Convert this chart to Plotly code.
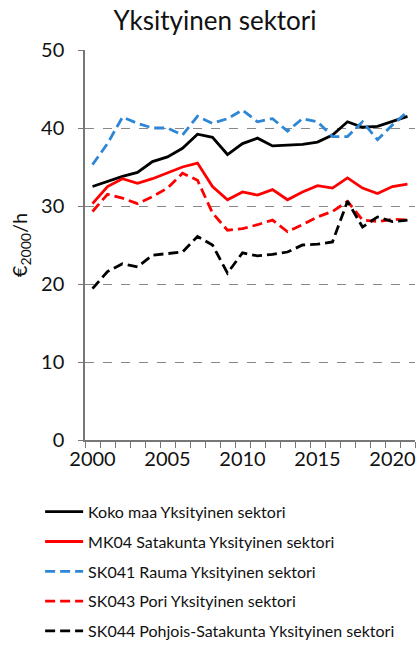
import plotly.graph_objects as go

# Data
years = list(range(2000, 2022))
koko_maa = [32.5, 33.2, 33.8, 34.3, 35.7, 36.3, 37.4, 39.2, 38.8, 36.6, 38.0,
            38.7, 37.7, 37.8, 37.9, 38.2, 39.1, 40.8, 40.1, 40.2, 40.8, 41.5]
satakunta = [30.3, 32.5, 33.5, 32.9, 33.5, 34.3, 35.0, 35.5, 32.5, 30.8, 31.8,
             31.4, 32.1, 30.8, 31.8, 32.6, 32.3, 33.6, 32.3, 31.6, 32.5, 32.8]
rauma = [35.3, 38.0, 41.4, 40.6, 40.0, 40.0, 39.1, 41.5, 40.6, 41.2, 42.3,
         40.8, 41.2, 39.6, 41.2, 40.8, 38.9, 38.9, 40.8, 38.5, 40.4, 42.1]
pori = [29.3, 31.5, 31.0, 30.3, 31.2, 32.3, 34.2, 33.3, 29.1, 26.9, 27.1,
        27.6, 28.2, 26.7, 27.6, 28.6, 29.3, 30.6, 28.2, 28.0, 28.3, 28.2]
pohjois = [19.4, 21.6, 22.6, 22.2, 23.7, 23.9, 24.1, 26.1, 25.0, 21.4, 24.0,
           23.6, 23.8, 24.1, 25.0, 25.1, 25.4, 30.6, 27.3, 28.6, 28.0, 28.2]

dashed = "10px,5px"
series = [
    ("Koko maa Yksityinen sektori", koko_maa, "black", "solid"),
    ("MK04 Satakunta Yksityinen sektori", satakunta, "#FF0000", "solid"),
    ("SK041 Rauma Yksityinen sektori", rauma, "#2E86D6", dashed),
    ("SK043 Pori Yksityinen sektori", pori, "#FF0000", dashed),
    ("SK044 Pohjois-Satakunta Yksityinen sektori", pohjois, "black", dashed),
]

fig = go.Figure()
for i, (name, vals, color, dash) in enumerate(series):
    fig.add_trace(go.Scatter(
        x=years, y=vals, name=name, mode="lines", legendgroup=str(i),
        line=dict(color=color, width=2.8, dash=dash),
    ))

font = "Lato, 'Open Sans', sans-serif"
fig.update_layout(
    width=417, height=651,
    margin=dict(l=85, r=2, t=50, b=211),
    plot_bgcolor="white", paper_bgcolor="white",
    font=dict(family=font, color="#111111"),
    title=dict(text="Yksityinen sektori", x=215 / 417, xanchor="center",
               y=1 - 21 / 651, yanchor="middle", font=dict(size=26)),
    # legend kept inside the figure so it does not push the margins
    legend=dict(x=-0.136, y=-0.1405, xanchor="left", yanchor="top",
                font=dict(size=16), tracegroupgap=6, itemwidth=38),
    showlegend=True,
)
fig.update_xaxes(
    range=[1999.5, 2021.5], tickvals=[2000, 2005, 2010, 2015, 2020],
    ticks="", showgrid=False, showline=True, linecolor="#777777", linewidth=1.5,
    tickfont=dict(size=20), automargin=False,
    minor=dict(ticks="outside", tick0=1999.5, dtick=1, ticklen=6,
               tickcolor="#777777", showgrid=False),
)
fig.update_yaxes(
    range=[0, 50], dtick=10, ticks="outside", ticklen=5, tickcolor="#777777",
    showline=True, linecolor="#777777", linewidth=1.5,
    showgrid=True, gridcolor="#888888", griddash="dash", gridwidth=1,
    zeroline=False, tickfont=dict(size=20), automargin=False,
    ticklabelstandoff=10,
    title=dict(text="€<sub>2000</sub>/h", font=dict(size=20), standoff=8),
)

fig.write_html("out.html", config={"displayModeBar": False},
               post_script=["document.body.style.margin='0';"])
